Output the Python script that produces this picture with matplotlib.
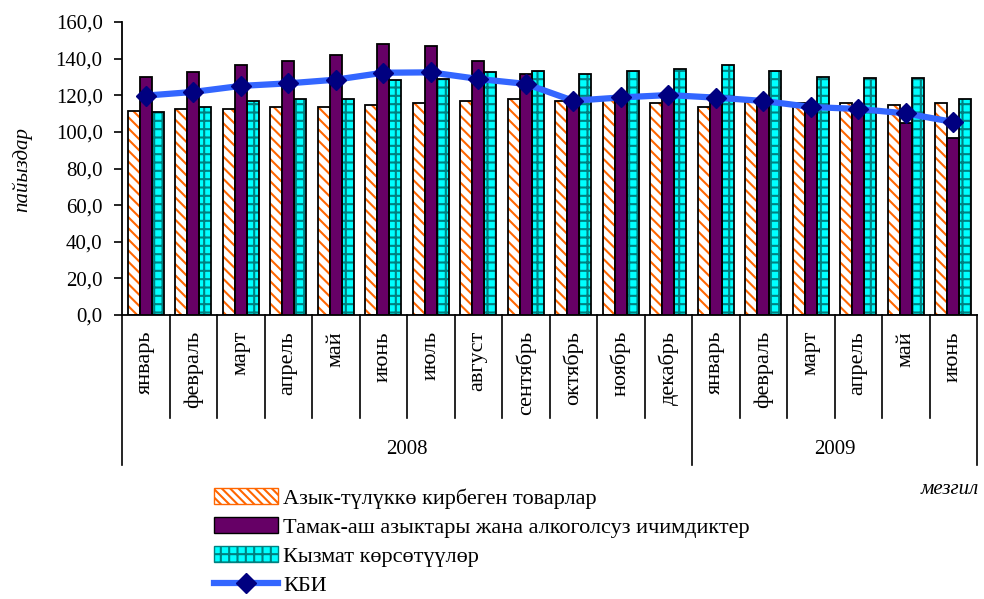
import matplotlib.pyplot as plt
import matplotlib.transforms as mtransforms
from matplotlib.lines import Line2D
from matplotlib.patches import Patch
import numpy as np

plt.rcParams['font.family'] = ['Liberation Serif', 'DejaVu Serif']
plt.rcParams['hatch.linewidth'] = 1.5

months = ['январь', 'февраль', 'март', 'апрель', 'май', 'июнь', 'июль', 'август',
          'сентябрь', 'октябрь', 'ноябрь', 'декабрь',
          'январь', 'февраль', 'март', 'апрель', 'май', 'июнь']
years = ['2008', '2009']
year_len = [12, 6]

non_food = [111.6, 112.5, 112.5, 113.4, 113.4, 114.5, 115.6, 116.9, 117.8, 116.7, 117.4, 115.6,
            113.6, 116.5, 115.6, 115.6, 114.7, 115.6]
food = [130.1, 132.5, 136.7, 138.7, 142.0, 148.2, 147.1, 138.7, 131.4, 117.0, 118.3, 119.6,
        118.8, 116.5, 112.5, 109.6, 105.0, 96.9]
services = [111.0, 113.4, 116.7, 117.7, 117.7, 128.1, 129.0, 132.5, 133.4, 131.4, 133.4, 134.3,
            136.7, 133.4, 130.2, 129.2, 129.2, 117.8]
cpi = [119.8, 121.8, 125.1, 126.5, 128.5, 132.3, 132.5, 128.9, 126.2, 117.0, 118.8, 120.1,
       118.7, 116.9, 113.6, 112.5, 110.1, 105.4]

labels = ['Азык-түлүккө кирбеген товарлар',
          'Тамак-аш азыктары жана алкоголсуз ичимдиктер',
          'Кызмат көрсөтүүлөр',
          'КБИ']

fig = plt.figure(figsize=(9.84, 5.99), dpi=100)
ax = fig.add_axes([122 / 984, 1 - 315 / 599, 855 / 984, 293 / 599])

x = np.arange(len(months)) + 0.5
w = 0.25
orange = '#FF6600'
purple = '#660066'
cyan = '#00FFFF'
teal = '#008080'

# hatched fills first, black outlines on top
ax.bar(x - w, non_food, w, color='white', hatch='\\\\\\', edgecolor=orange, linewidth=0, zorder=2)
ax.bar(x - w, non_food, w, fill=False, edgecolor='black', linewidth=1.3, zorder=3)
ax.bar(x, food, w, color=purple, edgecolor='black', linewidth=1.3, zorder=3)
ax.bar(x + w, services, w, color=cyan, hatch='++', edgecolor=teal, linewidth=0, zorder=2)
ax.bar(x + w, services, w, fill=False, edgecolor='black', linewidth=1.3, zorder=3)
ax.plot(x, cpi, color='#3366FF', linewidth=4.5, marker='D', markersize=10,
        markerfacecolor='#000080', markeredgecolor='#000080', zorder=4)

ax.set_xlim(0, len(months))
ax.set_ylim(0, 160)
ax.set_yticks(np.arange(0, 161, 20))
ax.set_yticklabels([f'{v:.1f}'.replace('.', ',') for v in np.arange(0, 161, 20)], fontsize=15)
ax.tick_params(axis='y', direction='out', length=6, width=1.2, pad=8)
ax.set_xticks([])
for s in ['top', 'right']:
    ax.spines[s].set_visible(False)
ax.spines['left'].set_linewidth(1.3)
ax.spines['bottom'].set_linewidth(1.3)

# two-level category axis
trans = mtransforms.blended_transform_factory(ax.transData, ax.transAxes)
ys_short = -103 / 293
ys_long = -150 / 293
bounds = np.cumsum([0] + year_len)
for k in range(len(months) + 1):
    y_end = ys_long if k in bounds else ys_short
    ax.plot([k, k], [0, y_end], color='black', linewidth=1.2, transform=trans, clip_on=False)
for i, m in enumerate(months):
    ax.text(x[i], -16 / 293, m, rotation=90, ha='center', va='top', fontsize=16,
            transform=trans)
for j, yr in enumerate(years):
    ax.text((bounds[j] + bounds[j + 1]) / 2, -135 / 293, yr, ha='center', va='center',
            fontsize=15, transform=trans)

fig.text(22 / 984, 1 - 170 / 599, 'пайыздар', rotation=90, ha='center', va='center',
         fontsize=15, style='italic')
fig.text(950 / 984, 1 - 490 / 599, 'мезгил', ha='center', va='center',
         fontsize=15, style='italic')

handles = [
    Patch(facecolor='white', edgecolor=orange, hatch='\\\\\\\\'),
    Patch(facecolor=purple, edgecolor='black'),
    Patch(facecolor=cyan, edgecolor=teal, hatch='++'),
    Line2D([], [], color='#3366FF', linewidth=4.5, marker='D', markersize=10,
           markerfacecolor='#000080', markeredgecolor='#000080'),
]
fig.legend(handles, labels, loc='upper left', bbox_to_anchor=(214 / 984, 1 - 488 / 599),
           frameon=False, fontsize=16, handlelength=2.9, handleheight=0.7,
           labelspacing=0.38, handletextpad=0.2, borderaxespad=0, borderpad=0)

fig.savefig('out.png', dpi=100, facecolor='white')
